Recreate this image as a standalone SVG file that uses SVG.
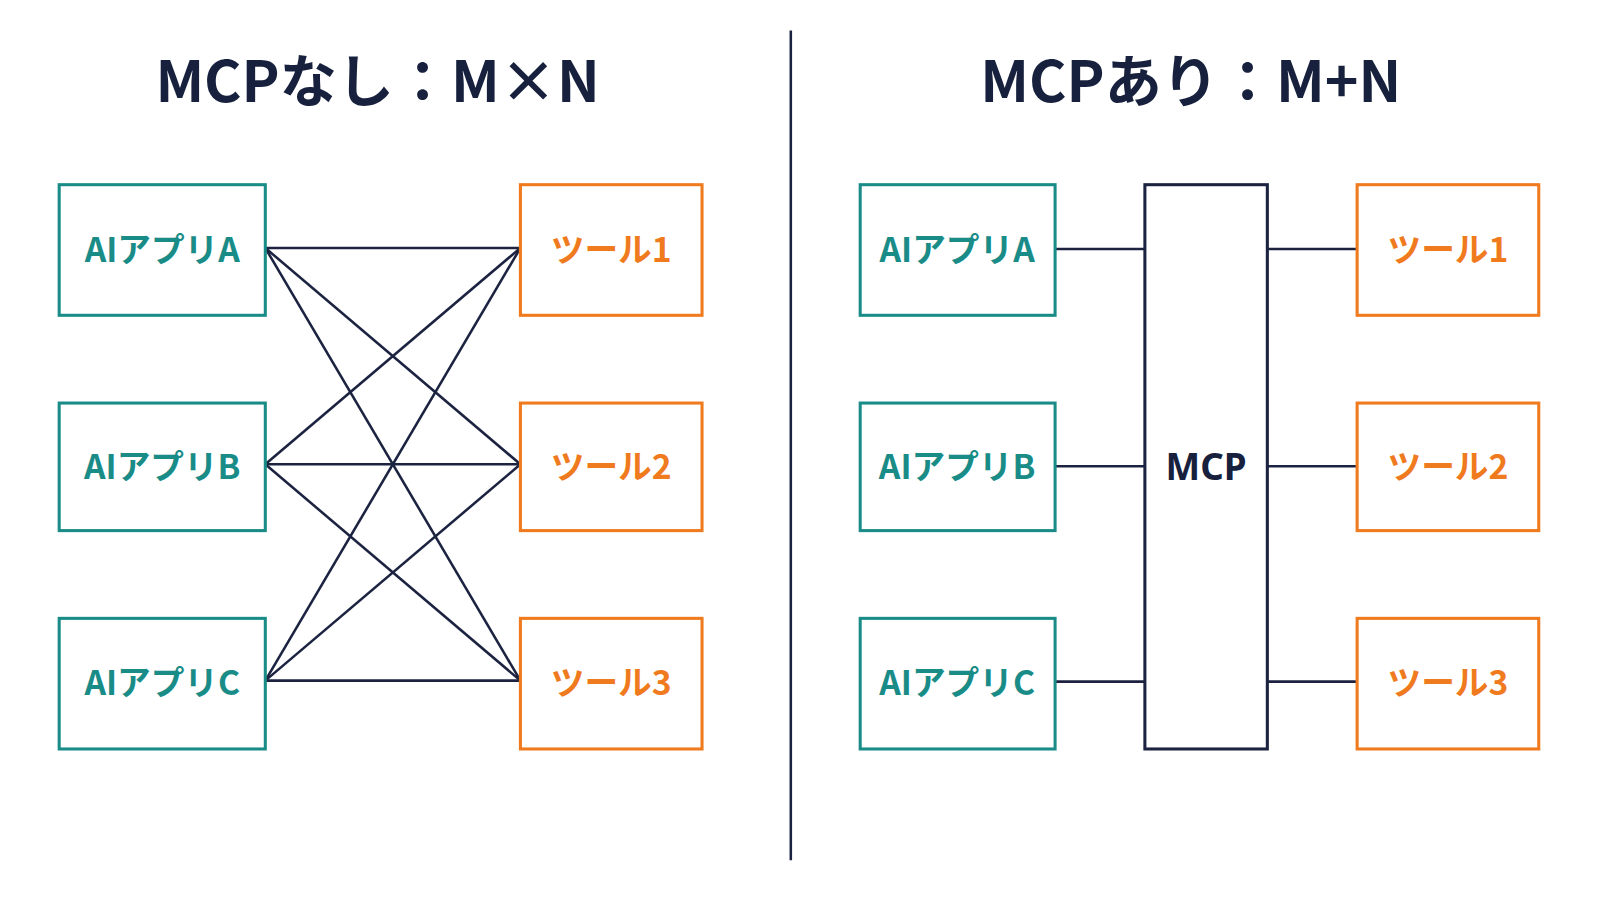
<svg xmlns="http://www.w3.org/2000/svg" width="1600" height="900" viewBox="0 0 1600 900">
<style>
.t{font-family:"Noto Sans CJK JP","Noto Sans",sans-serif;font-weight:700;fill:#17213d;font-size:56px;text-anchor:middle}
.app rect{fill:#fff;stroke:#1a8c88;stroke-width:3}
.app text{font-family:"Noto Sans CJK JP","Noto Sans",sans-serif;font-weight:700;fill:#1a8c88;font-size:33px;text-anchor:middle}
.tool rect{fill:#fff;stroke:#f07a1e;stroke-width:3}
.tool text{font-family:"Noto Sans CJK JP","Noto Sans",sans-serif;font-weight:700;fill:#f07a1e;font-size:33px;text-anchor:middle}
.c line{stroke:#1c2340;stroke-width:2.5}
</style>
<rect width="1600" height="900" fill="#fff"/>
<g transform="scale(1.0204)">
<text class="t" x="370" y="100">MCPなし：M×N</text>
<text class="t" x="1167" y="100">MCPあり：M+N</text>
<line x1="775" y1="30" x2="775" y2="843" stroke="#1c2340" stroke-width="2.5"/>
<g class="c">
<line x1="260" y1="243" x2="510" y2="243"/><line x1="260" y1="243" x2="510" y2="455"/><line x1="260" y1="243" x2="510" y2="667"/>
<line x1="260" y1="455" x2="510" y2="243"/><line x1="260" y1="455" x2="510" y2="455"/><line x1="260" y1="455" x2="510" y2="667"/>
<line x1="260" y1="667" x2="510" y2="243"/><line x1="260" y1="667" x2="510" y2="455"/><line x1="260" y1="667" x2="510" y2="667"/>
<line x1="1034" y1="244" x2="1122" y2="244"/><line x1="1034" y1="457" x2="1122" y2="457"/><line x1="1034" y1="668" x2="1122" y2="668"/>
<line x1="1242" y1="244" x2="1330" y2="244"/><line x1="1242" y1="457" x2="1330" y2="457"/><line x1="1242" y1="668" x2="1330" y2="668"/>
</g>
<g id="appA1" class="app"><rect x="58" y="181" width="202" height="128"/><text x="159" y="257">AIアプリA</text></g>
<g id="appB1" class="app"><rect x="58" y="395" width="202" height="125"/><text x="159" y="469">AIアプリB</text></g>
<g id="appC1" class="app"><rect x="58" y="606" width="202" height="128"/><text x="159" y="681">AIアプリC</text></g>
<g id="tool11" class="tool"><rect x="510" y="181" width="178" height="128"/><text x="599" y="257">ツール1</text></g>
<g id="tool21" class="tool"><rect x="510" y="395" width="178" height="125"/><text x="599" y="469">ツール2</text></g>
<g id="tool31" class="tool"><rect x="510" y="606" width="178" height="128"/><text x="599" y="681">ツール3</text></g>
<g id="appA2" class="app"><rect x="843" y="181" width="191" height="128"/><text x="938" y="257">AIアプリA</text></g>
<g id="appB2" class="app"><rect x="843" y="395" width="191" height="125"/><text x="938" y="469">AIアプリB</text></g>
<g id="appC2" class="app"><rect x="843" y="606" width="191" height="128"/><text x="938" y="681">AIアプリC</text></g>
<g id="mcp"><rect x="1122" y="181" width="120" height="553" fill="#fff" stroke="#1c2340" stroke-width="3"/><text x="1182" y="470" font-family="Noto Sans,sans-serif" font-weight="700" font-size="36" fill="#17213d" text-anchor="middle">MCP</text></g>
<g id="tool12" class="tool"><rect x="1330" y="181" width="178" height="128"/><text x="1419" y="257">ツール1</text></g>
<g id="tool22" class="tool"><rect x="1330" y="395" width="178" height="125"/><text x="1419" y="469">ツール2</text></g>
<g id="tool32" class="tool"><rect x="1330" y="606" width="178" height="128"/><text x="1419" y="681">ツール3</text></g>
</g>
</svg>
